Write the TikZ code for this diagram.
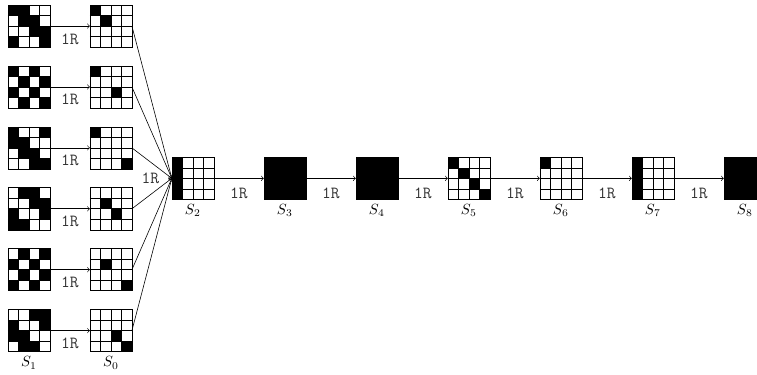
\documentclass[tikz,border=0pt]{standalone}
\usetikzlibrary{positioning,calc}

%% black cells of a 4x4 board, given as row/col pairs
\newcommand{\cells}[2]{%
  \begin{scope}[shift={(#1.north west)}]
    \foreach \row/\col in {#2}
      \fill (\col*0.25,-\row*0.25) rectangle ++(0.25,-0.25);
    \foreach \k in {1,2,3} {
      \draw[gridline] (\k*0.25,0) -- (\k*0.25,-1);
      \draw[gridline] (0,-\k*0.25) -- (1,-\k*0.25);
    }
  \end{scope}}

\begin{document}
\begin{tikzpicture}[
  board/.style={draw, rectangle, minimum size=1cm, inner sep=0pt, outer sep=0pt},
  full/.style={board, fill=black},
  gridline/.style={line width=0.4pt},
  arr/.style={->},
  rfont/.style={font=\fontsize{11.5}{12}\selectfont\ttfamily, text=black!80},
  rlabel/.style={rfont, below=1.5pt},
  label distance=0pt,
  node distance=0.45cm
]
  \useasboundingbox (0,0) rectangle (18.02,-8.905);

  %% left column: the six start boards
  \node[board] (l1) at (0.69,-0.62) {};
  \node[board, below=of l1] (l2) {};
  \node[board, below=of l2] (l3) {};
  \node[board, below=of l3] (l4) {};
  \node[board, below=of l4] (l5) {};
  \node[board, below=of l5, label=below:$S_1$] (l6) {};

  %% after one round
  \node[board, right=0.95cm of l1] (r1) {};
  \node[board, right=0.95cm of l2] (r2) {};
  \node[board, right=0.95cm of l3] (r3) {};
  \node[board, right=0.95cm of l4] (r4) {};
  \node[board, right=0.95cm of l5] (r5) {};
  \node[board, right=0.95cm of l6, label=below:$S_0$] (r6) {};

  %% main chain
  \coordinate (mid) at ($(r3.east)!0.5!(r4.east)$);
  \node[board, right=0.95cm of mid, label=below:$S_2$] (s2) {};
  \node[full, right=1.19cm of s2, label=below:$S_3$] (s3) {};
  \node[full, right=1.19cm of s3, label=below:$S_4$] (s4) {};
  \node[board, right=1.19cm of s4, label=below:$S_5$] (s5) {};
  \node[board, right=1.19cm of s5, label=below:$S_6$] (s6) {};
  \node[board, right=1.19cm of s6, label=below:$S_7$] (s7) {};
  \node[full, right=1.19cm of s7, label=below:$S_8$] (s8) {};

  \cells{l1}{0/0,0/1,1/1,1/2,2/2,2/3,3/0,3/3}
  \cells{l2}{0/0,0/2,1/1,1/3,2/0,2/2,3/1,3/3}
  \cells{l3}{0/0,0/3,1/0,1/1,2/1,2/2,3/2,3/3}
  \cells{l4}{0/1,0/2,1/2,1/3,2/0,2/3,3/0,3/1}
  \cells{l5}{0/1,0/3,1/0,1/2,2/1,2/3,3/0,3/2}
  \cells{l6}{0/2,0/3,1/0,1/3,2/0,2/1,3/1,3/2}

  \cells{r1}{0/0,1/1}
  \cells{r2}{0/0,2/2}
  \cells{r3}{0/0,3/3}
  \cells{r4}{1/1,2/2}
  \cells{r5}{1/1,3/3}
  \cells{r6}{2/2,3/3}

  \cells{s2}{0/0,1/0,2/0,3/0}
  \cells{s5}{0/0,1/1,2/2,3/3}
  \cells{s6}{0/0}
  \cells{s7}{0/0,1/0,2/0,3/0}

  \foreach \i in {1,...,6} {
    \draw[arr] (l\i) -- node[rlabel] {1R} (r\i);
    \draw[arr] (r\i.east) -- (s2.west);
  }
  \node[rfont, left=5pt of s2.west] (in) {1R};

  \draw[arr] (s2) -- node[rlabel, below=3pt] {1R} (s3);
  \draw[arr] (s3) -- node[rlabel, below=3pt] {1R} (s4);
  \draw[arr] (s4) -- node[rlabel, below=3pt] {1R} (s5);
  \draw[arr] (s5) -- node[rlabel, below=3pt] {1R} (s6);
  \draw[arr] (s6) -- node[rlabel, below=3pt] {1R} (s7);
  \draw[arr] (s7) -- node[rlabel, below=3pt] {1R} (s8);
\end{tikzpicture}
\end{document}
